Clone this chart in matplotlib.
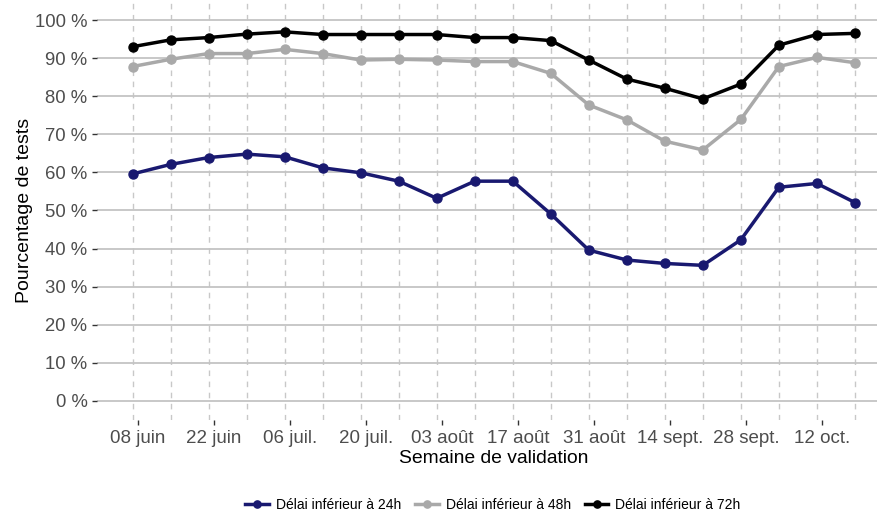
import matplotlib
matplotlib.use("Agg")
import matplotlib.pyplot as plt
import matplotlib.dates as mdates
import numpy as np
import pandas as pd

plt.rcParams['font.family'] = ['Liberation Sans', 'DejaVu Sans']

dates = pd.date_range("2020-06-07", "2020-10-18", freq="7D")
delai_24h = [59.6, 62.1, 63.9, 64.8, 64.1, 61.2, 59.9, 57.7, 53.2, 57.7,
             57.7, 49.1, 39.6, 37.0, 36.1, 35.6, 42.3, 56.1, 57.1, 52.1]
delai_48h = [87.8, 89.7, 91.2, 91.2, 92.3, 91.2, 89.5, 89.7, 89.5, 89.1,
             89.1, 86.0, 77.7, 73.8, 68.2, 65.9, 73.9, 87.8, 90.2, 88.8]
delai_72h = [93.0, 94.8, 95.4, 96.3, 96.9, 96.2, 96.2, 96.2, 96.2, 95.4,
             95.4, 94.6, 89.5, 84.5, 82.1, 79.3, 83.2, 93.4, 96.2, 96.5]
series_names = ["Délai inférieur à 24h", "Délai inférieur à 48h", "Délai inférieur à 72h"]
colors = ["#191970", "#A9A9A9", "#000000"]
tick_dates = pd.date_range("2020-06-08", "2020-10-12", freq="14D")
tick_labels = ["08 juin", "22 juin", "06 juil.", "20 juil.", "03 août",
               "17 août", "31 août", "14 sept.", "28 sept.", "12 oct."]
y_ticks = list(range(0, 101, 10))

fig = plt.figure(figsize=(8.77, 5.13), dpi=100)
ax = fig.add_axes([96.5 / 877, (513 - 420) / 513, (891 - 96.5) / 877, 419 / 513])

for d in dates:
    ax.axvline(d, color="#C8C8C8", lw=1.0, ls=(0, (4, 4)), zorder=1)
for y in y_ticks:
    ax.axhline(y, color="#C4C4C4", lw=1.3, zorder=1)

handles = []
for vals, name, c in zip([delai_24h, delai_48h, delai_72h], series_names, colors):
    h, = ax.plot(dates, vals, color=c, lw=2.5, marker="o", ms=6.5, label=name, zorder=3)
    handles.append(h)

x0 = mdates.date2num(dates[0]); x1 = mdates.date2num(dates[-1])
pad = (x1 - x0) * 0.05
ax.set_xlim(x0 - pad, x1 + pad)
ax.set_ylim(-5, 105)
ax.set_yticks(y_ticks)
ax.set_yticklabels([f"{v} %" for v in y_ticks])
ax.set_xticks(tick_dates)
ax.set_xticklabels(tick_labels)
for s in ax.spines.values():
    s.set_visible(False)
ax.tick_params(axis="both", labelcolor="#4D4D4D", color="#333333",
               length=3.5, width=1)
ax.tick_params(axis="x", pad=4, labelsize=13.5)
ax.tick_params(axis="y", pad=3, labelsize=13.3)
ax.set_xlabel("Semaine de validation", fontsize=13.9, color="black", labelpad=2)
ax.set_ylabel("Pourcentage de tests", fontsize=14, color="black", labelpad=1.5)

fig.legend(handles=handles, loc="center", bbox_to_anchor=(493 / 877, 0.016), ncol=3,
           frameon=False, fontsize=10, handlelength=1.7, handletextpad=0.5,
           columnspacing=1.0, markerscale=0.8)

fig.savefig("out.png", dpi=100)
